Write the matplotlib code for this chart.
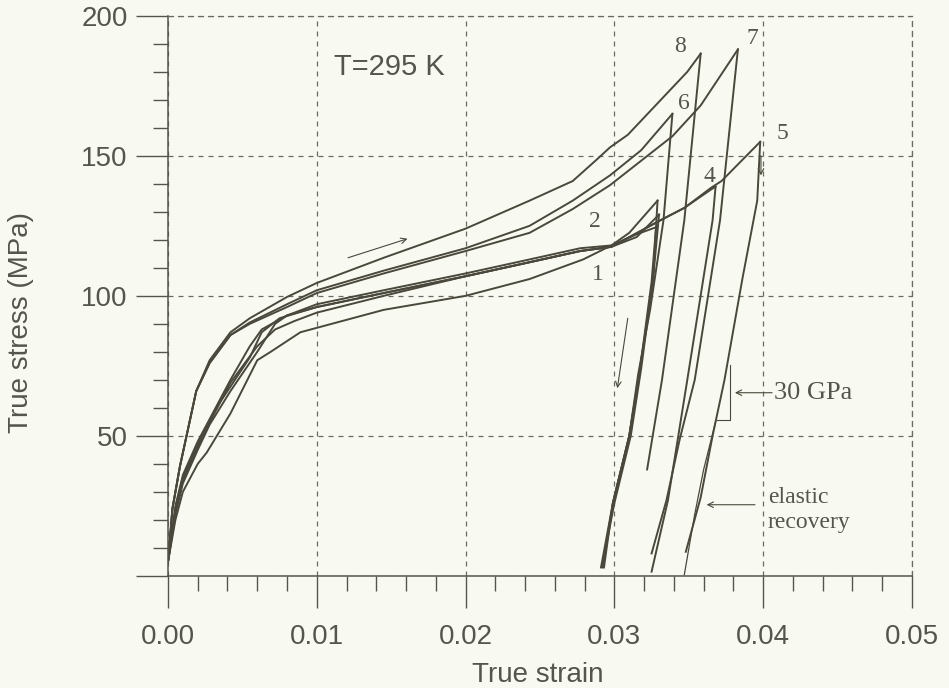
import matplotlib.pyplot as plt
from matplotlib.ticker import MultipleLocator

# loading curves (true strain, true stress in MPa)
strain1 = [0, 0.0005, 0.001, 0.002, 0.0026, 0.0042, 0.006, 0.0069, 0.0089, 0.0145, 0.02, 0.0243, 0.0279, 0.0298, 0.0315, 0.0328]
stress1 = [5, 20, 30, 40, 44, 58, 77, 80, 87, 95, 100, 106, 113, 118, 122, 124.5]
strain2 = [0, 0.0005, 0.001, 0.002, 0.003, 0.0042, 0.0055, 0.0063, 0.008, 0.01, 0.0145, 0.02, 0.0243, 0.0277, 0.0298, 0.031, 0.0329]
stress2 = [5, 25, 36, 48, 58, 70, 82, 88, 93, 97, 102, 108, 113, 117, 118, 122.5, 134]
strain3 = [0, 0.0005, 0.001, 0.002, 0.0028, 0.0042, 0.006, 0.0072, 0.008, 0.01, 0.0145, 0.02, 0.0243, 0.0277, 0.0298, 0.0315, 0.033]
stress3 = [5, 22, 33, 45, 54, 66, 80, 90, 93, 96, 101, 107, 112, 116, 117.5, 121, 129]
strain4 = [0, 0.0005, 0.001, 0.002, 0.0035, 0.0055, 0.0063, 0.0075, 0.01, 0.0145, 0.02, 0.0243, 0.0277, 0.0298, 0.0331, 0.0347, 0.0365, 0.0368]
stress4 = [5, 24, 35, 47, 62, 78, 87, 92, 96, 101, 107, 112, 116, 117.5, 127, 131.4, 138, 139]
strain5 = [0, 0.0005, 0.001, 0.002, 0.0028, 0.0042, 0.006, 0.0072, 0.0085, 0.01, 0.0145, 0.02, 0.0243, 0.0277, 0.0298, 0.0331, 0.0347, 0.0365, 0.0372, 0.0398]
stress5 = [5, 23, 34, 46, 55, 69, 82, 88, 91, 94, 100, 107, 112, 116, 117.5, 127, 131.4, 138.6, 141, 155]
strain6 = [0, 0.0003, 0.0008, 0.0019, 0.0028, 0.0042, 0.0055, 0.008, 0.01, 0.0145, 0.02, 0.0243, 0.0272, 0.0297, 0.0318, 0.0339]
stress6 = [5, 24, 39, 66, 76, 86, 90.5, 97, 102, 109, 117, 125, 134, 143, 152, 165]
strain7 = [0, 0.0003, 0.0008, 0.0019, 0.0028, 0.0042, 0.0055, 0.008, 0.01, 0.0145, 0.02, 0.0243, 0.0272, 0.0297, 0.0339, 0.0358, 0.0383]
stress7 = [5, 24, 39, 66, 76, 86, 90, 96, 101, 108, 116, 122.5, 131, 139.5, 157, 168, 188]
strain8 = [0, 0.0003, 0.0008, 0.0019, 0.0028, 0.0042, 0.0055, 0.008, 0.01, 0.0145, 0.02, 0.0243, 0.0272, 0.0288, 0.0297, 0.0309, 0.0349, 0.0358]
stress8 = [5, 24, 39, 66, 77, 87, 92, 99.6, 104.6, 113.6, 124, 134, 141, 148.6, 153, 157.5, 180, 186.5]

# unloading branches
un_strain1 = [0.0328, 0.0325, 0.0317, 0.031, 0.0299, 0.0291]
un_stress1 = [124.5, 105, 73, 50, 26, 3]
un_strain2 = [0.0329, 0.0326, 0.0317, 0.031, 0.0299, 0.0292]
un_stress2 = [134, 106, 73, 50, 26, 3]
un_strain3 = [0.033, 0.0326, 0.0318, 0.0311, 0.03, 0.0292]
un_stress3 = [129, 106, 74, 50, 26, 4]
un_strain4 = [0.0368, 0.0366, 0.0349, 0.0336, 0.0325]
un_stress4 = [139, 127, 70, 27, 1.5]
un_strain5 = [0.0398, 0.0396, 0.0386, 0.0374, 0.0366, 0.0358, 0.0348]
un_stress5 = [155, 134, 106, 70, 50, 28, 8.6]
un_strain6 = [0.0339, 0.0333, 0.0324, 0.0316, 0.031, 0.0299, 0.0293]
un_stress6 = [165, 127, 95, 72, 50, 26, 3]
un_strain7 = [0.0383, 0.0371, 0.0354, 0.0344, 0.0335, 0.0325]
un_stress7 = [188, 127, 70, 49, 27, 8]
un_strain8 = [0.0358, 0.0347, 0.0332, 0.0322]
un_stress8 = [186.5, 127, 70, 38]

# elastic recovery (reloading) branch
re_strain5 = [0.0347, 0.0354, 0.0360, 0.0368]
re_stress5 = [0.4, 22, 38, 55]

curve_labels = ['1', '2', '4', '5', '6', '7', '8']
label_x = [0.0289, 0.0287, 0.0364, 0.0413, 0.0347, 0.0393, 0.0344]
label_y = [107.5, 126.4, 142.5, 158, 168.6, 192, 189]

x_ticks = [0.0, 0.01, 0.02, 0.03, 0.04, 0.05]
x_ticklabels = ['0.00', '0.01', '0.02', '0.03', '0.04', '0.05']
y_ticks = [0, 50, 100, 150, 200]
y_ticklabels = ['', '50', '100', '150', '200']

ink = '#4a483c'
grey = '#55554d'
bg = '#f8faf1'

fig = plt.figure(figsize=(9.49, 6.88), dpi=100, facecolor=bg)
ax = fig.add_axes([0.177, 0.163, 0.784, 0.814], facecolor=bg)

loads = [(strain1, stress1), (strain2, stress2), (strain3, stress3), (strain4, stress4),
         (strain5, stress5), (strain6, stress6), (strain7, stress7), (strain8, stress8)]
unloads = [(un_strain1, un_stress1), (un_strain2, un_stress2), (un_strain3, un_stress3),
           (un_strain4, un_stress4), (un_strain5, un_stress5), (un_strain6, un_stress6),
           (un_strain7, un_stress7), (un_strain8, un_stress8)]
for s, t in loads:
    ax.plot(s, t, color=ink, lw=1.4, solid_joinstyle='round')
for s, t in unloads:
    ax.plot(s, t, color=ink, lw=1.4, solid_joinstyle='round')
ax.plot(re_strain5, re_stress5, color=ink, lw=0.9)

ax.set_xlim(0, 0.05)
ax.set_ylim(0, 200)

# ticks, grid and the dashed frame on top/right
ax.set_xticks(x_ticks)
ax.set_xticklabels(x_ticklabels)
ax.xaxis.set_minor_locator(MultipleLocator(0.002))
ax.set_yticks(y_ticks)
ax.set_yticklabels(y_ticklabels)
ax.yaxis.set_minor_locator(MultipleLocator(10))
ax.grid(True, which='major', color='#6a6a62', lw=0.9, linestyle=(0, (4, 4)))

for side in ['top', 'right']:
    ax.spines[side].set_linestyle((0, (4, 4)))
    ax.spines[side].set_color('#6a6a62')
    ax.spines[side].set_linewidth(0.9)
for side in ['left', 'bottom']:
    ax.spines[side].set_color(grey)
    ax.spines[side].set_linewidth(1.1)

ax.tick_params(which='major', direction='out', length=23, width=1.0, color=grey,
               labelsize=20, labelcolor=grey)
ax.tick_params(which='minor', direction='out', length=11, width=1.0, color=grey)
ax.tick_params(axis='x', which='major', pad=12)
ax.tick_params(axis='y', which='major', pad=6)
for lab in ax.get_xticklabels() + ax.get_yticklabels():
    lab.set_family('Liberation Sans')

ax.set_xlabel('True strain', fontsize=20, color=grey, family='Liberation Sans')
ax.set_ylabel('True stress (MPa)', fontsize=20, color=grey, family='Liberation Sans')
ax.xaxis.set_label_coords(0.497, -0.153)
ax.yaxis.set_label_coords(-0.18, 0.452)

ax.text(0.0149, 181.8, 'T=295 K', fontsize=21, color=grey, family='Liberation Sans',
        ha='center', va='center')

for lab, x, y in zip(curve_labels, label_x, label_y):
    ax.text(x, y, lab, fontsize=17, color=grey, family='Liberation Serif',
            ha='center', va='center')

arrow = dict(arrowstyle='->', color=ink, lw=0.8, shrinkA=0, shrinkB=0)
ax.annotate('', xy=(0.0161, 120.4), xytext=(0.0121, 113.6), arrowprops=arrow)
ax.annotate('', xy=(0.0302, 67), xytext=(0.0309, 92), arrowprops=arrow)
ax.annotate('', xy=(0.03985, 143), xytext=(0.03985, 150), arrowprops=arrow)
ax.annotate('', xy=(0.0381, 65.4), xytext=(0.0406, 65.4), arrowprops=arrow)
ax.text(0.0407, 65.4, '30 GPa', fontsize=19, color=grey, family='Liberation Serif',
        ha='left', va='center')
ax.plot([0.0369, 0.03777, 0.03777], [55.7, 55.7, 75.4], color=ink, lw=0.8)
ax.annotate('', xy=(0.0362, 25.4), xytext=(0.03945, 25.4), arrowprops=arrow)
ax.text(0.0403, 23.5, 'elastic\nrecovery', fontsize=17, color=grey, family='Liberation Serif',
        ha='left', va='center', linespacing=1.2)

fig.savefig('out.png', dpi=100, facecolor=bg)
